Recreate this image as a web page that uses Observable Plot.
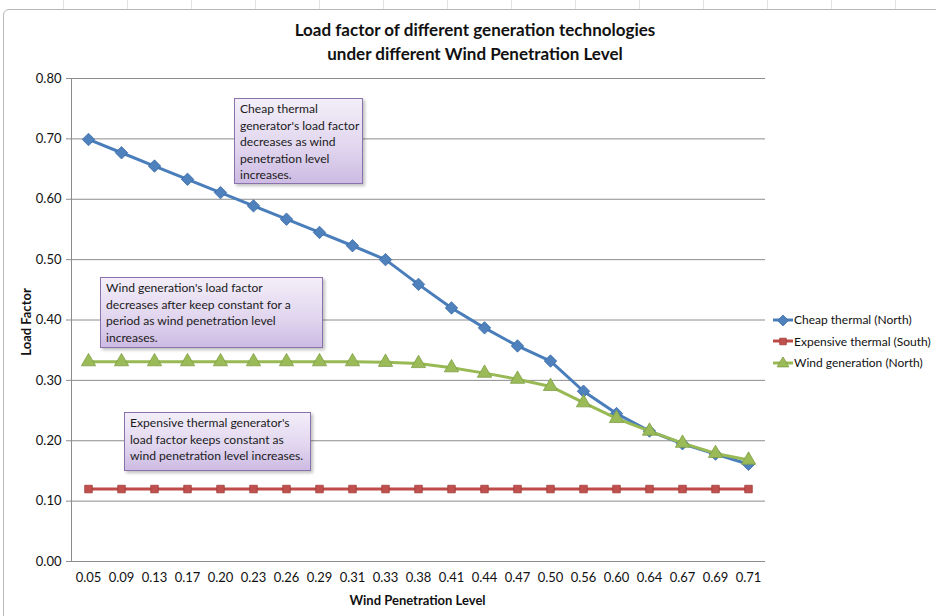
<!DOCTYPE html>
<html>
<head>
<meta charset="utf-8">
<script src="https://cdn.jsdelivr.net/npm/d3@7"></script>
<script src="https://cdn.jsdelivr.net/npm/@observablehq/plot@0.6"></script>
<style>
  html, body { margin: 0; padding: 0; background: #fff; overflow: hidden; }
  #wrap { position: relative; width: 936px; height: 616px; font-family: Lato, "Open Sans", sans-serif; color: #111; }
  #chart { position: absolute; left: 0; top: 0; }
  .frame { position: absolute; left: 3px; top: 9px; width: 960px; height: 640px; border: 1px solid #b8b8b8; border-radius: 6px; }
  .sheet { position: absolute; left: 0; top: 0; width: 936px; height: 9px; background:
    repeating-linear-gradient(90deg, transparent 0 63px, #e3e3e3 63px 64px); }
  .title { position: absolute; left: 175px; width: 600px; text-align: center; font-weight: bold; font-size: 17px; }
  .xlabel { position: absolute; left: 70px; width: 695px; top: 592px; text-align: center; font-weight: bold; font-size: 13px; }
  .ylabel { position: absolute; left: 26px; top: 322px; transform: translate(-50%, -50%) rotate(-90deg); font-weight: bold; font-size: 13px; white-space: nowrap; }
  .note { position: absolute; box-sizing: border-box; border: 1px solid #8a72ad; font-size: 12.1px; line-height: 16.5px; padding: 2px 5px; white-space: nowrap;
    background: linear-gradient(180deg, #f3eef9 0%, #e2d7ef 55%, #cdbbe3 100%); box-shadow: 2px 2px 3px rgba(0,0,0,0.25); color: #1a1a1a; }
  .legend { position: absolute; left: 773px; font-size: 12px; white-space: nowrap; }
  .legend div { height: 21.5px; display: flex; align-items: center; }
  .legend svg { margin-right: 1px; }
</style>
</head>
<body>
<div id="wrap">
  <div class="sheet"></div>
  <div class="frame"></div>
  <div id="chart"></div>
  <div class="title" style="top:19px">Load factor of different generation technologies</div>
  <div class="title" style="top:43px">under different Wind Penetration Level</div>
  <div class="xlabel">Wind Penetration Level</div>
  <div class="ylabel">Load Factor</div>
  <div class="note" style="left:234px; top:98px; width:129px; height:86px;">Cheap thermal<br>generator's load factor<br>decreases as wind<br>penetration level<br>increases.</div>
  <div class="note" style="left:100px; top:277px; width:223px; height:71px;">Wind generation's load factor<br>decreases after keep constant for a<br>period as wind penetration level<br>increases.</div>
  <div class="note" style="left:124px; top:412px; width:187px; height:59px;">Expensive thermal generator's<br>load factor keeps constant as<br>wind penetration level increases.</div>
  <div class="legend" id="legend" style="top:309px"></div>
</div>
<script>
const levels = ["0.05","0.09","0.13","0.17","0.20","0.23","0.26","0.29","0.31","0.33","0.38","0.41","0.44","0.47","0.50","0.56","0.60","0.64","0.67","0.69","0.71"];
const cheapThermal = [0.699,0.677,0.655,0.633,0.611,0.589,0.567,0.545,0.523,0.500,0.459,0.420,0.387,0.357,0.332,0.282,0.245,0.216,0.195,0.178,0.161];
const expensiveThermal = [0.12,0.12,0.12,0.12,0.12,0.12,0.12,0.12,0.12,0.12,0.12,0.12,0.12,0.12,0.12,0.12,0.12,0.12,0.12,0.12,0.12];
const windGeneration = [0.331,0.331,0.331,0.331,0.331,0.331,0.331,0.331,0.331,0.330,0.328,0.321,0.312,0.302,0.290,0.263,0.237,0.216,0.196,0.179,0.168];
const yTicks = [0,0.1,0.2,0.3,0.4,0.5,0.6,0.7,0.8];

const seriesNames = ["Cheap thermal (North)", "Expensive thermal (South)", "Wind generation (North)"];
const seriesValues = [cheapThermal, expensiveThermal, windGeneration];
const lineColors = ["#4a7ebb", "#be4b48", "#98b954"];
const fillColors = ["#4f81bd", "#c0504d", "#9bbb59"];
const strokeColors = ["#3a6aa6", "#a03c3a", "#7f9e45"];
const symbols = ["diamond2", "square2", "triangle"];
const radii = [5.6, 4.8, 5.3];

const data = seriesNames.flatMap((s, i) => levels.map((l, j) => ({series: s, si: i, level: l, value: seriesValues[i][j]})));

const marks = [
  Plot.gridY(yTicks.slice(1), {stroke: "#8c8c8c", strokeOpacity: 1}),
  Plot.ruleY([0], {stroke: "#8c8c8c"}),
  Plot.frame({anchor: "left", stroke: "#8c8c8c"}),
  Plot.axisY(yTicks, {tickFormat: d3.format(".2f"), tickSize: 5, tickPadding: 5, stroke: "#8c8c8c", fontSize: 13, fill: "#111", label: null}),
  Plot.axisX({tickSize: 0, tickPadding: 11, fontSize: 13, fill: "#111", label: null}),
];
seriesNames.forEach((s, i) => {
  const d = data.filter(r => r.si === i);
  marks.push(Plot.line(d, {x: "level", y: "value", stroke: lineColors[i], strokeWidth: 3}));
  marks.push(Plot.dot(d, {x: "level", y: "value", symbol: symbols[i], r: radii[i], fill: fillColors[i], stroke: strokeColors[i], strokeWidth: 0.8}));
});

const chart = Plot.plot({
  width: 936,
  height: 616,
  marginTop: 78,
  marginBottom: 55,
  marginLeft: 71,
  marginRight: 171,
  style: {fontFamily: "Lato, 'Open Sans', sans-serif", background: "transparent"},
  x: {type: "point", domain: levels, padding: 0.5},
  y: {domain: [0, 0.8]},
  marks
});
document.getElementById("chart").appendChild(chart);

// legend
const legend = document.getElementById("legend");
seriesNames.forEach((s, i) => {
  const row = document.createElement("div");
  const sym = d3.symbol(i === 0 ? d3.symbolDiamond2 : i === 1 ? d3.symbolSquare2 : d3.symbolTriangle, i === 0 ? 75 : i === 2 ? 60 : 55)();
  row.innerHTML = `<svg width="20" height="12"><line x1="0" x2="20" y1="6" y2="6" stroke="${lineColors[i]}" stroke-width="3"/><path transform="translate(10,6.5)" d="${sym}" fill="${fillColors[i]}" stroke="${strokeColors[i]}" stroke-width="0.8"/></svg><span>${s}</span>`;
  legend.appendChild(row);
});
</script>
</body>
</html>
